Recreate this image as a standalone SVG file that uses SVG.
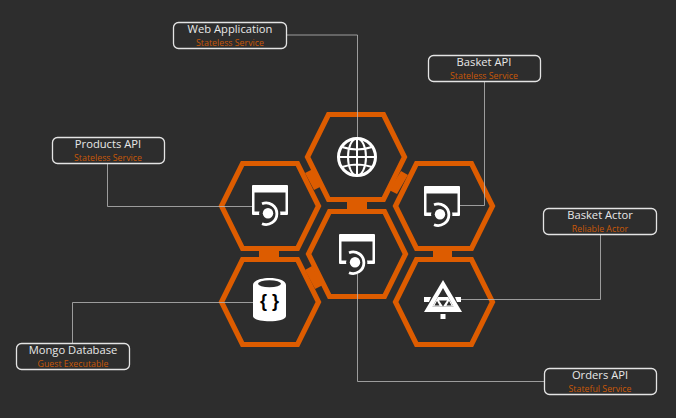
<svg xmlns="http://www.w3.org/2000/svg" width="676" height="418" viewBox="0 0 676 418">
<style>
.hex{fill:none;stroke:#dd5c00;stroke-width:5.2;stroke-linejoin:miter}
.bar{fill:#dd5c00}
.conn{fill:none;stroke:#b8b8b8;stroke-opacity:.8;stroke-width:1}
.box{fill:#2d2d2d;stroke:#e4e4e4;stroke-width:1.3}
.t{font-family:"Open Sans","Noto Sans",Arial,sans-serif;text-anchor:middle}
.n{font-size:11.2px;fill:#e8e8e8}
.s{font-size:8.8px;fill:#c85808}
.ico{fill:#fff}
.ln{fill:none;stroke:#fff}
.bg{fill:#2d2d2d}
</style>
<defs>
<polygon id="hx" class="hex" points="-48.5,0 -27.5,-42.5 27.5,-42.5 48.5,0 27.5,42.5 -27.5,42.5"/>
<g id="win">
<path class="ico" fill-rule="evenodd" d="M-18,-21a1,1 0 0 1 1,-1h34a1,1 0 0 1 1,1v28a1,1 0 0 1 -1,1h-34a1,1 0 0 1 -1,-1zM-15.500,-14.500v19h31v-19z"/>
<path fill="none" stroke="#2d2d2d" stroke-width="7" d="M-8,-3.300A10.800,10.800 0 1 1 -8,16.700"/>
<circle class="bg" cx="-3" cy="6.500" r="8"/>
<circle class="ico" cx="-2" cy="6.300" r="5.200"/>
<path class="ln" stroke-width="2.800" d="M-8,-3.300A10.800,10.800 0 1 1 -8,16.700"/>
</g>
</defs>
<rect width="676" height="418" fill="#2d2d2d"/>
<g id="links">
<rect class="bar" x="259" y="250" width="20" height="8"/>
<rect class="bar" x="433" y="250" width="19" height="8"/>
<rect class="bar" x="347" y="201" width="20" height="9"/>
<polygon class="bar" points="305,173 313,169 322,186 314,190"/>
<polygon class="bar" points="401,171 408,175 397,194 389,190"/>
<polygon class="bar" points="305,270 312,266 323,285 315,289"/>
</g>
<g id="products-hex"><use href="#hx" x="270" y="206"/><use href="#win" x="270" y="207"/></g>
<g id="web-hex">
<use href="#hx" x="356" y="157"/>
<g class="ln" stroke-width="2">
<circle cx="357" cy="157" r="18.500" stroke-width="3"/>
<ellipse cx="357" cy="157" rx="9" ry="18.500"/>
<path d="M357,139V175M339,157H375M342,147Q357,152 372,147M342,167Q357,162 372,167"/>
</g>
</g>
<g id="basket-hex"><use href="#hx" x="444" y="206"/><use href="#win" x="442" y="208"/></g>
<g id="orders-hex"><use href="#hx" x="357" y="254"/><use href="#win" x="357" y="256"/></g>
<g id="mongo-hex">
<use href="#hx" x="270" y="302"/>
<path class="ico" d="M253,285C253,275.500 286,275.500 286,285V316C286,323 253,323 253,316Z"/>
<ellipse class="bg" cx="269.500" cy="283.800" rx="11.500" ry="3.500"/>
<text x="269.500" y="307" font-family="'Liberation Sans',Arial,sans-serif" font-size="18" font-weight="bold" text-anchor="middle" fill="#000">{ }</text>
</g>
<g id="actor-hex">
<use href="#hx" x="444" y="302"/>
<polygon class="ico" points="443,280 462,312 424,312"/>
<polygon class="bg" points="443,288 453.500,306.500 432.500,306.500"/>
<polygon class="ico" points="438,297 448,297 453.500,306.500 432.500,306.500"/>
<polygon class="bg" points="439,300.500 447,300.500 443,306.500"/>
<polygon class="bg" points="437,301 439.500,305.500 434.500,305.500"/>
<polygon class="bg" points="449,301 451.500,305.500 446.500,305.500"/>
<polygon class="ico" points="424,297 431,297 429,302 424,302"/>
<polygon class="ico" points="455,297 461,297 461,302 457,302"/>
<rect class="ico" x="440.500" y="314" width="5" height="5"/>
</g>
<g id="connectors">
<path class="conn" d="M287,35H357.500V137"/>
<path class="conn" d="M484.500,81V205.500H460"/>
<path class="conn" d="M107.500,163V206.500H252"/>
<path class="conn" d="M600.500,234V299.500H461"/>
<path class="conn" d="M357.500,274V381.500H544" stroke-width="1.300"/>
<path class="conn" d="M72.500,343V302.500H253"/>
</g>
<g id="web-app"><rect class="box" x="173.500" y="22.500" width="113" height="26" rx="5"/><text class="t n" x="230" y="33">Web Application</text><text class="t s" x="230" y="46">Stateless Service</text></g>
<g id="basket-api"><rect class="box" x="428.500" y="55.500" width="112" height="26" rx="5"/><text class="t n" x="484" y="66">Basket API</text><text class="t s" x="484" y="79">Stateless Service</text></g>
<g id="products-api"><rect class="box" x="52.500" y="137.500" width="112" height="26" rx="5"/><text class="t n" x="108" y="148">Products API</text><text class="t s" x="108" y="161">Stateless Service</text></g>
<g id="basket-actor"><rect class="box" x="543.500" y="208.500" width="113" height="26" rx="5"/><text class="t n" x="600" y="219">Basket Actor</text><text class="t s" x="600" y="232">Reliable Actor</text></g>
<g id="orders-api"><rect class="box" x="544.500" y="368.500" width="112" height="26" rx="5"/><text class="t n" x="600" y="379">Orders API</text><text class="t s" x="600" y="392">Stateful Service</text></g>
<g id="mongo-db"><rect class="box" x="16.500" y="343.500" width="113" height="26" rx="5"/><text class="t n" x="73" y="354">Mongo Database</text><text class="t s" x="73" y="367">Guest Executable</text></g>
</svg>
